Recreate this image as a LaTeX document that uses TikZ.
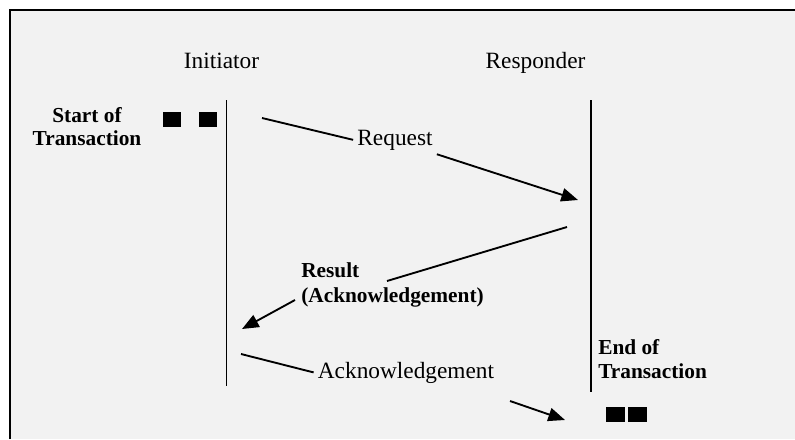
\documentclass[tikz,border=0pt]{standalone}
\usepackage{fontspec}
\setmainfont{Liberation Serif}
\usetikzlibrary{arrows.meta}
\definecolor{panel}{RGB}{242,242,242}
\tikzset{
  lbl/.style={font=\fontsize{17.5}{21}\selectfont, inner sep=3pt},
  bold/.style={font=\fontsize{16}{#1}\bfseries\selectfont, inner sep=0pt},
  bold/.default={18},
  lifeline/.style={line width=1.4pt},
  msg/.style={line width=1.4pt},
  msgarrow/.style={msg, -{Triangle[length=12.5pt,width=10pt]}},
  marker/.style={fill=black, inner sep=0pt, minimum height=11.25pt},
}
\begin{document}
\begin{tikzpicture}[x=0.75pt, y=-0.75pt]
  \useasboundingbox (0,0) rectangle (795,439);
  % panel with its frame on the top and left sides
  \fill[white] (0,0) rectangle (795,439);
  \fill[panel] (10,10) rectangle (795,439);
  \draw[line width=1.6pt] (10,439) -- (10,10) -- (795,10);

  % participants
  \node[lbl, anchor=base] (ini) at (221.5,68) {Initiator};
  \node[lbl, anchor=base] (resp) at (535.5,68) {Responder};

  % lifelines
  \coordinate (ini-top) at (226.5,100);
  \coordinate (ini-bot) at (226.5,386);
  \coordinate (resp-top) at (591,100);
  \coordinate (resp-bot) at (591,392);
  \draw[lifeline] (ini-top) -- (ini-bot);
  \draw[lifeline] (resp-top) -- (resp-bot);

  % start of transaction
  \node[bold=17.25, align=center, anchor=north] (start) at (87,107.5) {Start of\\Transaction};
  \node[marker, minimum width=13.5pt] (s1) at (172,119.5) {};
  \node[marker, minimum width=13.5pt] (s2) at (208,119.5) {};

  % request
  \node[lbl, anchor=base] (req) at (395,145) {Request};
  \coordinate (req-from) at (262,118);
  \coordinate (req-to) at (578,200);
  \draw[msg] (req-from) -- (req.west);
  \draw[msgarrow] (req.south east) -- (req-to);

  % result
  \node[font=\fontsize{16}{18.75}\bfseries\selectfont, inner sep=0pt, align=left, anchor=north west] (res) at (301,262.5) {Result\\(Acknowledgement)};
  \coordinate (res-from) at (567,227);
  \coordinate (res-in) at (387,281);
  \coordinate (res-out) at (295,300);
  \coordinate (res-to) at (242,329);
  \draw[msg] (res-from) -- (res-in);
  \draw[msgarrow] (res-out) -- (res-to);

  % acknowledgement
  \node[lbl, anchor=base] (ack) at (406,378) {Acknowledgement};
  \coordinate (ack-from) at (241,354);
  \coordinate (ack-out) at (510,401);
  \coordinate (ack-to) at (565,420);
  \draw[msg] (ack-from) -- (ack.west);
  \draw[msgarrow] (ack-out) -- (ack-to);

  % end of transaction
  \node[bold=18, align=left, anchor=north west] (end) at (598,339.3) {End of\\Transaction};
  \node[marker, minimum width=14.25pt] (e1) at (615.5,414.5) {};
  \node[marker, minimum width=14.25pt] (e2) at (637.5,414.5) {};
\end{tikzpicture}
\end{document}
